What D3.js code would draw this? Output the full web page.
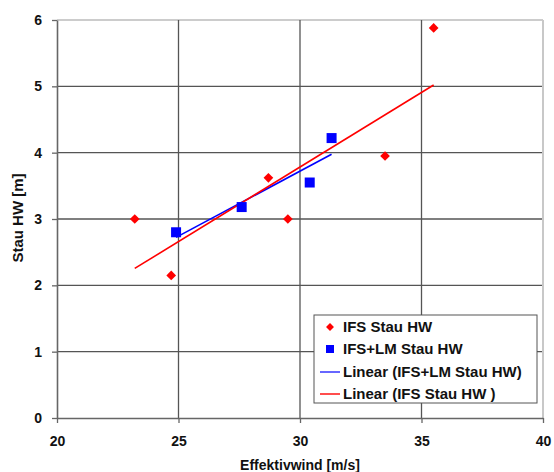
<!DOCTYPE html>
<html><head><meta charset="utf-8">
<script src="https://cdn.jsdelivr.net/npm/d3@7"></script>
<style>body{margin:0;background:#fff}svg{display:block;font-family:"Liberation Sans",Arial,sans-serif;font-weight:bold}</style>
</head><body><svg id="c" width="554" height="472"></svg>
<script>
const ifsWind = [23.2, 24.7, 28.7, 29.5, 33.5, 35.5];
const ifsStau = [3.0, 2.15, 3.62, 3.0, 3.95, 5.88];
const lmWind = [24.9, 27.6, 30.4, 31.3];
const lmStau = [2.8, 3.18, 3.55, 4.22];
const xTicks = [20, 25, 30, 35, 40];
const yTicks = [0, 1, 2, 3, 4, 5, 6];
const legendLabels = ["IFS Stau HW", "IFS+LM Stau HW", "Linear (IFS+LM Stau HW)", "Linear (IFS Stau HW )"];

const svg = d3.select("#c");
const x = d3.scaleLinear().domain([20, 40]).range([57, 543]);
const y = d3.scaleLinear().domain([0, 6]).range([418, 20]);

// gridlines
svg.append("g").selectAll("line").data(yTicks.slice(1)).join("line")
  .attr("x1", x(20)).attr("x2", x(40)).attr("y1", d => y(d)).attr("y2", d => y(d))
  .attr("stroke", d => d === 6 ? "#bbb" : "#555").attr("stroke-width", 1.3);
svg.append("g").selectAll("line").data(xTicks.slice(1)).join("line")
  .attr("y1", y(0)).attr("y2", y(6)).attr("x1", d => x(d)).attr("x2", d => x(d))
  .attr("stroke", d => d === 40 ? "#c8c8c8" : "#555").attr("stroke-width", d => d === 40 ? 2 : 1.3);

// axes
const xAxis = svg.append("g").attr("transform", `translate(0,${y(0)})`)
  .call(d3.axisBottom(x).tickValues(xTicks).tickSize(5).tickPadding(13).tickSizeOuter(0));
const yAxis = svg.append("g").attr("transform", `translate(${x(20)},0)`)
  .call(d3.axisLeft(y).tickValues(yTicks).tickFormat(d3.format("d")).tickSize(5).tickPadding(10).tickSizeOuter(0));
[xAxis, yAxis].forEach(a => {
  a.select(".domain").attr("stroke", "#666").attr("stroke-width", 1.6);
  a.selectAll(".tick line").attr("stroke", "#666").attr("stroke-width", 1.3);
  a.selectAll("text").attr("font-size", 14).attr("font-weight", "bold").attr("fill", "#111")
    .attr("font-family", '"Liberation Sans",Arial,sans-serif');
});

// regression lines
function fit(xs, ys) {
  const mx = d3.mean(xs), my = d3.mean(ys);
  let sxy = 0, sxx = 0;
  xs.forEach((v, i) => { sxy += (v - mx) * (ys[i] - my); sxx += (v - mx) * (v - mx); });
  const b = sxy / sxx, a = my - b * mx;
  const x0 = d3.min(xs), x1 = d3.max(xs);
  return [[x0, a + b * x0], [x1, a + b * x1]];
}
const line = d3.line().x(d => x(d[0])).y(d => y(d[1]));
svg.append("path").attr("d", line(fit(lmWind, lmStau))).attr("stroke", "#0000ff").attr("stroke-width", 1.6).attr("fill", "none");
svg.append("path").attr("d", line(fit(ifsWind, ifsStau))).attr("stroke", "#ff0000").attr("stroke-width", 1.6).attr("fill", "none");

// points
const diamond = d3.symbol().type(d3.symbolDiamond2).size(60);
svg.append("g").selectAll("path").data(ifsWind.map((w, i) => [w, ifsStau[i]])).join("path")
  .attr("d", diamond).attr("transform", d => `translate(${x(d[0])},${y(d[1])})`).attr("fill", "#ff0000");
svg.append("g").selectAll("rect").data(lmWind.map((w, i) => [w, lmStau[i]])).join("rect")
  .attr("x", d => x(d[0]) - 5).attr("y", d => y(d[1]) - 5).attr("width", 10).attr("height", 10).attr("fill", "#0000ff");

// axis titles
svg.append("text").attr("x", 300).attr("y", 470).attr("text-anchor", "middle").attr("font-size", 14).attr("fill", "#111").text("Effektivwind [m/s]");
svg.append("text").attr("transform", "translate(23,218) rotate(-90)").attr("text-anchor", "middle").attr("font-size", 15).attr("fill", "#111").text("Stau HW [m]");

// legend
const lg = svg.append("g");
lg.append("rect").attr("x", 314).attr("y", 315).attr("width", 223).attr("height", 88).attr("fill", "#fff").attr("stroke", "#555").attr("stroke-width", 1);
const ly = [327, 349, 372, 394];
lg.append("path").attr("d", d3.symbol().type(d3.symbolDiamond2).size(40)).attr("transform", `translate(330,${ly[0]})`).attr("fill", "#ff0000");
lg.append("rect").attr("x", 326).attr("y", ly[1] - 4).attr("width", 8).attr("height", 8).attr("fill", "#0000ff");
lg.append("line").attr("x1", 320).attr("x2", 340).attr("y1", ly[2]).attr("y2", ly[2]).attr("stroke", "#4040ff").attr("stroke-width", 1.6);
lg.append("line").attr("x1", 320).attr("x2", 340).attr("y1", ly[3]).attr("y2", ly[3]).attr("stroke", "#ff2020").attr("stroke-width", 1.6);
lg.selectAll("text.l").data(legendLabels).join("text").attr("class", "l")
  .attr("x", 343).attr("y", (d, i) => ly[i] + 5).attr("font-size", 15).attr("fill", "#111").text(d => d);
</script></body></html>
